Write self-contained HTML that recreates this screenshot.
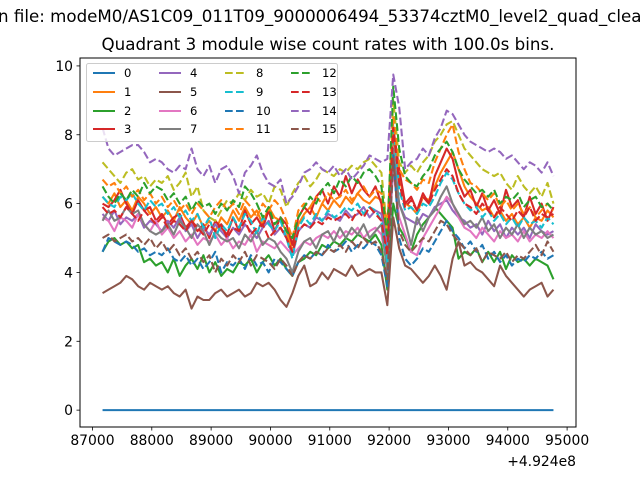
<!DOCTYPE html>
<html><head><meta charset="utf-8"><style>
html,body{margin:0;padding:0;background:#fff;width:640px;height:480px;overflow:hidden}
svg{display:block;font-family:"DejaVu Sans","Liberation Sans",sans-serif}
</style></head><body>
<svg id="chart" width="640" height="480" viewBox="0 0 640 480">
<text x="-2" y="22" font-size="16.7" textLength="654" lengthAdjust="spacingAndGlyphs">n file: modeM0/AS1C09_011T09_9000006494_53374cztM0_level2_quad_clean</text>
<text x="328" y="50" font-size="16.7" text-anchor="middle">Quadrant 3 module wise count rates with 100.0s bins.</text>
<g id="plot"></g>
<rect x="80" y="58" width="496" height="369" fill="none" stroke="#000" stroke-width="1"/>
<g id="axes"></g>
<g id="legend"></g>
</svg>
<script>
const startTime = 87170;
const binSize = 100;
const xTicks = [87000,88000,89000,90000,91000,92000,93000,94000,95000];
const yTicks = [0,2,4,6,8,10];
const seriesNames = ["0","1","2","3","4","5","6","7","8","9","10","11","12","13","14","15"];
const s0 = new Array(77).fill(0);
const s1 = [6.2,6.0,6.3,5.9,6.1,5.8,6.2,6.0,5.7,5.9,5.6,5.8,5.5,5.9,5.6,5.4,5.7,5.3,5.5,5.2,5.6,5.4,5.8,5.5,5.9,5.6,5.8,5.4,5.9,5.6,5.5,5.2,4.6,5.4,5.7,5.9,5.6,6.0,5.8,6.1,5.9,6.2,6.0,6.3,6.1,6.0,6.2,6.1,4.9,8.0,6.8,6.0,5.9,5.7,6.2,6.1,6.5,6.9,7.2,7.5,7.0,6.5,6.2,6.0,5.8,5.9,5.6,5.8,5.5,5.7,5.4,5.6,5.3,5.6,5.5,5.8,5.6];
const s2 = [4.6,4.9,5.0,4.8,4.9,4.7,4.8,4.3,4.4,4.2,4.3,4.0,4.4,3.9,4.2,4.4,4.1,4.5,4.0,4.3,3.9,4.1,4.0,4.3,4.2,4.4,4.0,4.3,4.5,4.2,4.4,4.1,3.9,4.3,4.4,4.6,4.5,4.8,4.7,4.9,4.8,5.0,4.9,5.1,5.0,4.9,5.1,4.8,3.5,6.0,5.3,5.0,4.6,5.1,5.4,5.6,5.9,5.7,5.5,5.3,4.4,4.6,4.5,4.7,4.3,4.6,4.3,4.6,4.1,4.5,4.3,4.4,4.2,4.4,4.3,4.2,3.8];
const s3 = [6.0,5.9,6.1,6.4,6.0,5.7,6.1,5.8,5.9,5.5,5.7,5.4,5.6,5.7,5.3,5.5,5.2,5.4,5.0,5.5,5.3,5.1,5.6,5.2,5.8,5.4,5.6,5.3,5.8,5.2,5.6,5.4,4.8,5.6,5.9,5.7,6.2,6.4,6.0,6.5,6.2,6.8,6.3,6.7,6.4,6.2,6.5,6.0,4.4,8.2,7.0,6.0,6.2,5.8,6.3,6.0,6.8,7.2,7.6,7.3,6.6,6.2,6.4,5.9,6.3,5.8,6.1,5.7,6.4,5.9,6.1,5.6,6.2,5.7,6.0,5.5,5.9];
const s4 = [5.7,5.5,5.8,5.4,5.6,5.5,5.7,5.3,5.5,5.4,5.2,5.5,5.3,5.6,5.2,5.4,5.0,5.3,5.1,5.4,5.2,5.0,5.3,5.1,5.4,5.2,5.0,5.3,5.5,5.1,5.3,5.0,4.5,5.2,5.4,5.3,5.6,5.5,5.7,5.6,5.5,5.8,5.6,5.7,5.9,5.6,5.8,5.7,4.8,7.0,6.0,5.6,5.5,5.4,5.7,5.6,5.9,6.0,6.1,5.8,5.6,5.5,5.3,5.4,5.1,5.5,5.2,5.4,5.0,5.3,5.1,5.3,5.0,5.4,5.2,5.1,5.2];
const s5 = [3.4,3.5,3.6,3.7,3.9,3.8,3.6,3.5,3.7,3.6,3.5,3.6,3.4,3.3,3.5,2.95,3.3,3.2,3.2,3.4,3.5,3.3,3.4,3.5,3.3,3.4,3.7,3.6,3.7,3.5,3.2,3.0,3.4,3.9,4.2,3.6,3.7,4.0,3.8,4.1,4.0,3.9,4.2,3.9,4.0,4.1,4.0,4.0,3.05,5.6,4.7,4.2,4.1,3.9,3.7,3.9,4.2,3.9,3.5,4.4,4.9,4.2,4.3,4.1,4.0,3.8,3.6,4.2,3.9,3.7,3.5,3.3,3.5,3.6,3.7,3.3,3.5];
const s6 = [5.6,5.5,5.2,5.6,5.5,5.3,5.7,5.4,5.2,5.5,5.1,5.3,5.0,5.2,4.9,5.1,4.8,5.0,4.9,5.1,4.8,5.0,4.7,4.9,4.8,5.1,4.6,4.9,4.8,4.7,4.9,4.7,4.5,4.7,4.9,4.8,5.0,5.1,5.0,5.2,5.0,5.2,5.1,5.3,5.0,5.2,5.3,5.1,4.2,7.0,5.6,5.1,4.6,4.5,5.0,5.3,5.6,5.9,6.2,6.0,5.6,5.3,5.2,5.0,5.3,5.1,4.9,5.2,5.0,5.1,4.9,5.2,4.9,5.1,5.0,5.2,5.0];
const s7 = [5.5,5.8,5.5,5.6,5.9,5.7,5.8,5.4,5.2,5.1,5.2,5.4,5.1,5.5,5.3,5.0,5.4,5.2,4.8,5.2,5.0,4.9,5.0,4.7,5.1,4.9,5.2,4.8,5.0,4.9,4.6,4.4,4.0,4.6,4.9,5.0,4.7,5.1,5.2,4.9,5.3,5.0,5.3,5.1,5.4,5.0,5.2,5.4,4.0,7.6,6.0,5.5,4.8,5.6,5.2,5.6,5.8,6.2,6.5,6.0,5.7,5.4,5.5,5.3,5.6,5.2,5.4,5.0,5.3,5.1,5.4,5.0,5.3,5.1,5.2,5.0,5.1];
const s8 = [7.2,7.0,6.8,6.6,6.9,7.0,6.7,6.8,6.5,6.7,6.6,6.8,6.4,6.6,6.9,6.2,6.5,5.8,5.6,5.5,5.8,6.1,6.0,6.3,6.1,6.4,6.2,6.3,6.0,6.5,6.4,5.9,6.3,6.6,6.8,6.5,6.7,7.0,6.9,6.8,7.0,6.9,7.1,7.0,7.2,7.3,7.1,6.9,5.2,9.0,7.2,6.9,7.1,6.9,7.2,7.4,7.8,8.0,8.3,8.4,8.0,7.6,7.4,7.2,7.0,6.9,6.8,6.9,6.6,6.4,6.8,6.5,6.3,6.5,6.2,6.6,6.0];
const s9 = [6.2,6.0,5.9,6.2,6.1,6.3,6.0,5.8,6.1,5.9,6.0,5.7,5.9,5.6,5.8,5.5,5.7,5.3,5.6,5.0,5.4,5.2,5.6,5.3,5.7,5.5,5.1,5.6,5.4,5.2,5.5,5.0,4.4,5.3,5.6,5.4,5.7,5.5,5.8,5.6,5.7,5.9,5.8,6.0,5.7,5.9,5.8,5.5,4.3,8.4,6.4,5.8,5.9,5.7,6.0,5.9,6.2,6.6,6.9,6.7,6.3,6.0,5.8,5.9,5.6,5.8,5.5,5.7,5.4,5.6,5.3,5.6,5.4,5.5,5.3,5.6,5.4];
const s10 = [4.6,5.0,4.9,4.8,4.9,4.8,4.6,4.7,4.5,4.6,4.5,4.7,4.4,4.3,4.5,4.2,4.4,4.1,4.3,4.6,4.0,4.3,4.2,4.4,4.1,4.5,4.2,4.3,4.0,4.4,4.3,4.1,3.9,4.3,4.5,4.4,4.6,4.5,4.8,4.6,4.7,4.9,4.6,4.8,4.7,4.9,4.8,4.5,3.6,7.4,5.0,4.4,4.2,4.4,4.7,4.6,4.9,5.2,5.5,5.2,5.0,4.7,4.9,4.6,4.8,4.4,4.6,4.3,4.5,4.2,4.4,4.3,4.5,4.4,4.6,4.4,4.5];
const s11 = [6.7,6.5,6.6,6.3,6.5,6.2,6.4,6.1,6.3,6.0,6.2,5.9,6.1,5.8,6.0,5.7,6.0,5.8,5.6,5.9,6.1,5.8,6.0,5.7,6.1,5.9,5.6,6.0,5.8,6.1,5.9,5.5,5.0,5.8,6.0,5.9,6.2,6.0,6.3,6.1,6.2,6.4,6.1,6.3,6.5,6.2,6.4,6.3,5.4,8.5,7.0,6.7,6.6,6.4,6.7,6.6,7.2,7.6,8.0,8.3,7.5,7.0,6.6,6.5,6.3,6.1,6.3,5.9,6.1,5.8,6.0,5.7,5.9,5.6,5.8,6.0,5.8];
const s12 = [6.5,6.2,6.0,6.3,6.1,6.4,6.2,6.6,6.3,6.5,6.4,6.1,6.3,6.0,6.2,5.8,6.1,5.9,6.0,5.7,6.0,5.8,6.1,5.9,6.5,6.3,6.0,5.6,5.9,5.4,5.6,5.2,5.0,5.6,5.9,6.2,6.0,6.4,6.6,6.3,6.7,6.5,6.8,6.6,6.9,7.0,6.8,6.5,5.0,9.4,7.6,6.8,6.6,6.5,6.8,7.0,7.4,7.6,7.8,7.5,7.0,6.7,6.5,6.3,6.4,6.2,6.4,6.0,6.2,6.1,6.3,5.9,6.1,6.2,5.9,6.0,5.8];
const s13 = [5.9,5.7,5.8,5.6,5.9,5.7,5.5,5.8,5.6,5.4,5.6,5.3,5.5,5.4,5.2,5.5,5.3,5.1,5.4,5.2,5.4,5.0,5.3,5.2,5.5,5.1,5.3,5.4,5.0,5.2,5.3,5.0,4.6,5.2,5.4,5.3,5.5,5.4,5.6,5.5,5.6,5.7,5.5,5.8,5.6,5.9,5.7,5.5,4.5,8.2,6.6,5.9,6.1,5.8,6.2,6.0,6.4,6.7,7.0,6.8,6.3,6.0,5.9,5.7,6.0,5.8,5.6,5.9,5.7,5.5,5.8,5.6,5.9,5.5,5.7,5.6,5.7];
const s14 = [8.2,7.6,7.4,7.5,7.6,7.7,7.7,7.5,7.2,7.3,7.2,7.0,6.9,7.1,7.0,7.6,7.0,6.8,7.1,6.6,7.0,7.1,6.8,6.3,6.9,7.1,7.4,6.9,6.6,6.5,6.7,6.0,6.2,6.5,6.9,7.0,7.2,7.0,6.9,7.1,6.8,7.0,6.7,6.9,7.1,7.4,7.3,7.2,7.3,9.75,8.8,7.0,7.2,7.3,7.6,7.4,7.9,8.2,8.7,8.6,8.3,8.0,7.8,7.7,7.6,7.5,7.6,7.5,7.3,7.4,7.2,7.0,7.2,7.1,6.9,7.2,6.8];
const s15 = [5.0,5.1,4.9,5.0,5.1,4.9,5.0,4.8,5.0,4.7,4.9,4.6,4.8,4.5,4.7,4.4,4.6,4.3,4.5,4.0,4.4,4.2,4.5,4.3,4.6,4.2,4.5,4.4,4.3,4.1,4.4,4.2,3.9,4.3,4.5,4.4,4.6,4.5,4.7,4.6,4.8,4.6,4.9,4.7,5.0,4.8,4.9,4.6,3.8,7.3,5.2,4.8,4.6,4.8,5.0,4.9,5.2,5.5,5.4,5.1,4.9,4.7,4.5,4.7,4.3,4.6,4.5,4.4,4.6,4.3,4.5,4.4,4.6,4.8,4.5,4.9,4.6];
const allSeries = [s0,s1,s2,s3,s4,s5,s6,s7,s8,s9,s10,s11,s12,s13,s14,s15];
const colors = ["#1f77b4","#ff7f0e","#2ca02c","#d62728","#9467bd","#8c564b","#e377c2","#7f7f7f","#bcbd22","#17becf","#1f77b4","#ff7f0e","#2ca02c","#d62728","#9467bd","#8c564b"];

const NS = "http://www.w3.org/2000/svg";
const X0 = 80, X1 = 576, Y0 = 427, Y1 = 58;
const xMin = 86790, xMax = 95150, yMin = -0.49, yMax = 10.23;
function xScale(v){ return X0 + (v - xMin) / (xMax - xMin) * (X1 - X0); }
function yScale(v){ return Y0 - (v - yMin) / (yMax - yMin) * (Y0 - Y1); }
function mk(tag, attrs, parent){ const e = document.createElementNS(NS, tag); for (const k in attrs) e.setAttribute(k, attrs[k]); parent.appendChild(e); return e; }

const plot = document.getElementById('plot');
allSeries.forEach((vals, si) => {
  const pts = vals.map((v, i) => xScale(startTime + i * binSize).toFixed(2) + ',' + yScale(v).toFixed(2)).join(' ');
  const attrs = {points: pts, fill: 'none', stroke: colors[si], 'stroke-width': 2.08, 'stroke-linejoin': 'round'};
  if (si >= 8) attrs['stroke-dasharray'] = '7.7,3.3';
  const pl = mk('polyline', attrs, plot);
  
  
});

const axes = document.getElementById('axes');
xTicks.forEach(t => {
  const x = xScale(t);
  const ln = mk('line', {x1: x, x2: x, y1: Y0, y2: Y0 + 3.5, stroke: '#000', 'stroke-width': 0.8}, axes);
  
  
  const tx = mk('text', {x: x, y: Y0 + 18, 'font-size': 13.9, 'text-anchor': 'middle'}, axes);
  tx.textContent = String(t);
  
  
});
const off = mk('text', {x: 576, y: 466, 'font-size': 13.9, 'text-anchor': 'end'}, axes);
off.textContent = '+4.924e8';


yTicks.forEach(t => {
  const y = yScale(t);
  const ln = mk('line', {x1: X0 - 3.5, x2: X0, y1: y, y2: y, stroke: '#000', 'stroke-width': 0.8}, axes);
  
  
  const tx = mk('text', {x: X0 - 7, y: y + 5, 'font-size': 13.9, 'text-anchor': 'end'}, axes);
  tx.textContent = String(t);
  
  
});

const legend = document.getElementById('legend');
mk('rect', {x: 86.5, y: 63.5, width: 251, height: 78, rx: 2, fill: '#fff', 'fill-opacity': 0.8, stroke: '#ccc', 'stroke-width': 1}, legend);
const colX = [93, 159, 225, 291];
const rowY = [73, 92, 111, 129];
seriesNames.forEach((nm, si) => {
  const c = Math.floor(si / 4), r = si % 4;
  const x = colX[c], y = rowY[r];
  const la = {x1: x, x2: x + 22, y1: y, y2: y, stroke: colors[si], 'stroke-width': 2.08};
  if (si >= 8) la['stroke-dasharray'] = '7.7,3.3';
  const ln = mk('line', la, legend);
  
  
  const tx = mk('text', {x: x + 31, y: y + 4, 'font-size': 11.6}, legend);
  tx.textContent = nm;
  
  
});
</script>
</body></html>
